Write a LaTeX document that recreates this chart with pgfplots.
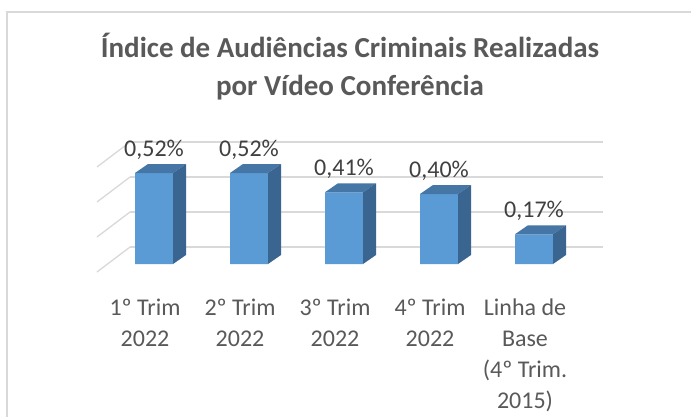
\documentclass[border=0pt]{standalone}
\usepackage{fontspec}
\setmainfont{Carlito}
\usepackage{pgfplots}
\usepackage{pgfplotstable}
\pgfplotsset{compat=1.18}
\definecolor{barfront}{HTML}{5B9BD5}
\definecolor{bartop}{HTML}{4676A6}
\definecolor{barside}{HTML}{3A6591}
\definecolor{gridcol}{HTML}{D9D9D9}
\definecolor{txt}{HTML}{595959}
\definecolor{lbl}{HTML}{404040}

\pgfplotstableread{
x v
0 0.52
1 0.52
2 0.41
3 0.40
4 0.17
}\datatab

\pgfdeclareplotmark{bar3d}{%
  \pgfmathsetlengthmacro{\barh}{\barv*175pt}%
  \pgfpathmoveto{\pgfqpoint{-19pt}{0pt}}%
  \pgfpathlineto{\pgfqpoint{19pt}{0pt}}%
  \pgfpathlineto{\pgfqpoint{32pt}{9pt}}%
  \pgfpathlineto{\pgfqpoint{-6pt}{9pt}}%
  \pgfpathclose
  \pgfsetfillcolor{bartop}\pgfusepath{fill}%
  \pgfpathmoveto{\pgfqpoint{19pt}{0pt}}%
  \pgfpathlineto{\pgfqpoint{32pt}{9pt}}%
  \pgfpathlineto{\pgfpoint{32pt}{9pt-\barh}}%
  \pgfpathlineto{\pgfpoint{19pt}{-\barh}}%
  \pgfpathclose
  \pgfsetfillcolor{barside}\pgfusepath{fill}%
}

\begin{document}
\begin{tikzpicture}[x=1pt,y=1pt]
\useasboundingbox (0,0) rectangle (691,416);
\fill[white] (0,0) rectangle (691,416);
\draw[gridcol, line width=2pt] (7,-2) -- (7,404) -- (693,404);
\node[font=\fontsize{29}{37}\selectfont\bfseries, text=txt, anchor=base] at (350,358) {Índice de Audiências Criminais Realizadas};
\node[font=\fontsize{29}{37}\selectfont\bfseries, text=txt, anchor=base] at (350,320.5) {por Vídeo Conferência};
\begin{axis}[
  at={(154pt,152pt)}, anchor=origin,
  x=95pt, y=175pt,
  xmin=-0.2526, xmax=4.7263, ymin=0, ymax=0.6,
  clip=false,
  axis line style={draw=none},
  tick style={draw=none},
  ytick={0,0.2,0.4,0.6}, yticklabels={},
  ymajorgrids,
  major grid style={draw=gridcol, line width=1.3pt, yshift=17pt},
  xtick={0,1,2,3,4},
  xticklabels={{1º Trim\\2022},{2º Trim\\2022},{3º Trim\\2022},{4º Trim\\2022},{Linha de\\Base\\(4º Trim.\\2015)}},
  xticklabel style={align=center, anchor=north, inner sep=0pt, yshift=-35pt, xshift=-9pt, font=\fontsize{24}{31}\selectfont, text=txt},
]
\pgfplotsinvokeforeach{0,0.2,0.4,0.6}{
  \draw[gridcol, line width=1.3pt] ([xshift=-57pt,yshift=-8pt]axis cs:0,#1) -- ([xshift=-24pt,yshift=17pt]axis cs:0,#1);
}
\addplot[ybar, bar width=38pt, fill=barfront, draw=none,
  nodes near coords={\pgfmathprintnumber[assume math mode=true,use comma,fixed,fixed zerofill,precision=2]{\pgfplotspointmeta}\%},
  nodes near coords style={anchor=base, yshift=16.5pt, inner sep=0pt, font=\fontsize{24}{29}\selectfont, text=lbl}]
  table[x=x, y=v] {\datatab};
\addplot[only marks, mark=bar3d, visualization depends on={\thisrow{v} \as \barv}]
  table[x=x, y=v] {\datatab};
\end{axis}
\end{tikzpicture}
\end{document}
